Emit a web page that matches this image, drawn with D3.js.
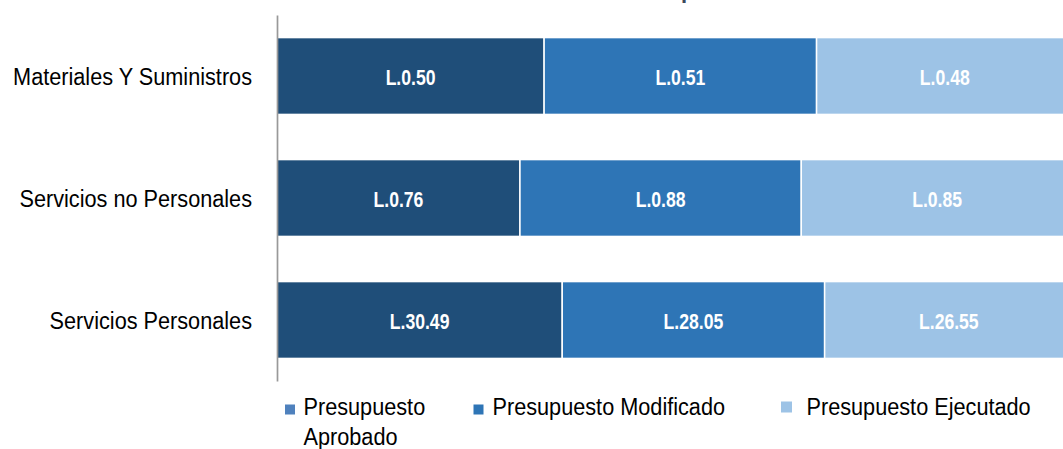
<!DOCTYPE html>
<html><head><meta charset="utf-8">
<script src="https://cdn.jsdelivr.net/npm/d3@7"></script>
<style>html,body{margin:0;padding:0;background:#fff;overflow:hidden}svg{display:block}</style>
</head><body>
<script>
const categories = ["Materiales Y Suministros", "Servicios no Personales", "Servicios Personales"];
const seriesNames = ["Presupuesto Aprobado", "Presupuesto Modificado", "Presupuesto Ejecutado"];
const aprobado   = [0.50, 0.76, 30.49];
const modificado = [0.51, 0.88, 28.05];
const ejecutado  = [0.48, 0.85, 26.55];
const barColors = ["#1f4e79", "#2e75b6", "#9dc3e6"];
const legendColors = ["#4f81bd", "#2e75b6", "#9dc3e6"];
const titleText = "Gasto por Rubro";

const W = 1063, H = 449;
const svg = d3.select("body").append("svg").attr("width", W).attr("height", H);
const font = "'Liberation Sans', Arial, sans-serif";
const kLabel = 0.885, kBar = 0.8;

function ctext(parent, x, y, k, size) {
  return parent.append("text").attr("transform", `translate(${x},${y}) scale(${k},1)`)
    .attr("font-family", font).attr("font-size", size);
}

const rows = categories.map((c, i) => ({cat: c, vals: [aprobado[i], modificado[i], ejecutado[i]]}));

const x = d3.scaleLinear().domain([0, 1]).range([277, 1073]);
const y = d3.scaleBand().domain(categories).range([15, 381]).paddingInner(0.37).paddingOuter(0.185);

// clipped title (only the descender is visible in the reference)
svg.append("text").attr("x", 700).attr("y", -2).attr("text-anchor", "middle")
  .attr("font-family", font).attr("font-size", 22).attr("font-weight", "bold").attr("fill", "#3b4a5c")
  .text(titleText);

rows.forEach(r => {
  const total = d3.sum(r.vals);
  let acc = 0;
  r.vals.forEach((v, j) => {
    const x0 = x(acc / total), x1 = x((acc + v) / total);
    acc += v;
    svg.append("rect").attr("x", x0).attr("y", y(r.cat)).attr("width", x1 - x0).attr("height", y.bandwidth())
      .attr("fill", barColors[j]).attr("stroke", "#fff").attr("stroke-width", 1.5);
    ctext(svg, (x0 + x1) / 2, y(r.cat) + y.bandwidth() / 2 + 8.5, kBar, 22)
      .attr("text-anchor", "middle").attr("font-weight", "bold").attr("fill", "#fff")
      .text("L." + v.toFixed(2));
  });
});

// y axis
const yAxis = svg.append("g").attr("transform", "translate(277,0)")
  .call(d3.axisLeft(y).tickSize(0).tickPadding(0));
yAxis.select(".domain").attr("stroke", "#999").attr("stroke-width", 1.7);
yAxis.selectAll(".tick text")
  .attr("font-family", font).attr("font-size", 24.5).attr("fill", "#000")
  .attr("dy", null).attr("y", 8.5).attr("x", -25 / kLabel)
  .attr("transform", `scale(${kLabel},1)`);

// legend
const legendX = [285, 473.5, 781];
const legendSize = [10, 10, 11];
const legendTX = [303.5, 492.5, 806.5];
seriesNames.forEach((s, i) => {
  svg.append("rect").attr("x", legendX[i]).attr("y", i === 2 ? 401.5 : 404.5)
    .attr("width", legendSize[i]).attr("height", legendSize[i]).attr("fill", legendColors[i]);
  if (i === 0) {
    ctext(svg, legendTX[i], 415, kLabel, 24.5).attr("fill", "#000").text("Presupuesto");
    ctext(svg, legendTX[i], 445, kLabel, 24.5).attr("fill", "#000").text("Aprobado");
  } else {
    ctext(svg, legendTX[i], 415, kLabel, 24.5).attr("fill", "#000").text(s);
  }
});
</script>
</body></html>
